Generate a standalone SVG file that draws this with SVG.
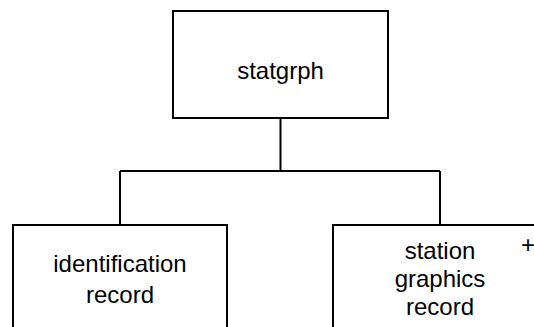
<svg xmlns="http://www.w3.org/2000/svg" width="534" height="327" viewBox="0 0 534 327">
<style>
.box{fill:#fff;stroke:#000;stroke-width:2}
.t{font-family:"Liberation Sans",Arial,sans-serif;font-size:24px;fill:#000;text-anchor:middle}
.c{fill:none;stroke:#000;stroke-width:2}
</style>
<rect width="534" height="327" fill="#fff"/>
<g id="connectors">
<path class="c" d="M280.5,118 V171 M120,171 H440 M120,171 V225 M440,171 V225"/>
</g>
<g id="statgrph">
<rect class="box" x="173" y="11" width="215" height="107"/>
<text class="t" x="280.5" y="79">statgrph</text>
</g>
<g id="identification">
<rect class="box" x="13" y="225" width="214" height="120"/>
<text class="t" x="120" y="272">identification</text>
<text class="t" x="120" y="303">record</text>
</g>
<g id="station">
<rect class="box" x="333" y="225" width="214" height="120"/>
<text class="t" x="440" y="259">station</text>
<text class="t" x="440" y="287">graphics</text>
<text class="t" x="440" y="315">record</text>
<text class="t" x="528" y="253">+</text>
</g>
</svg>
